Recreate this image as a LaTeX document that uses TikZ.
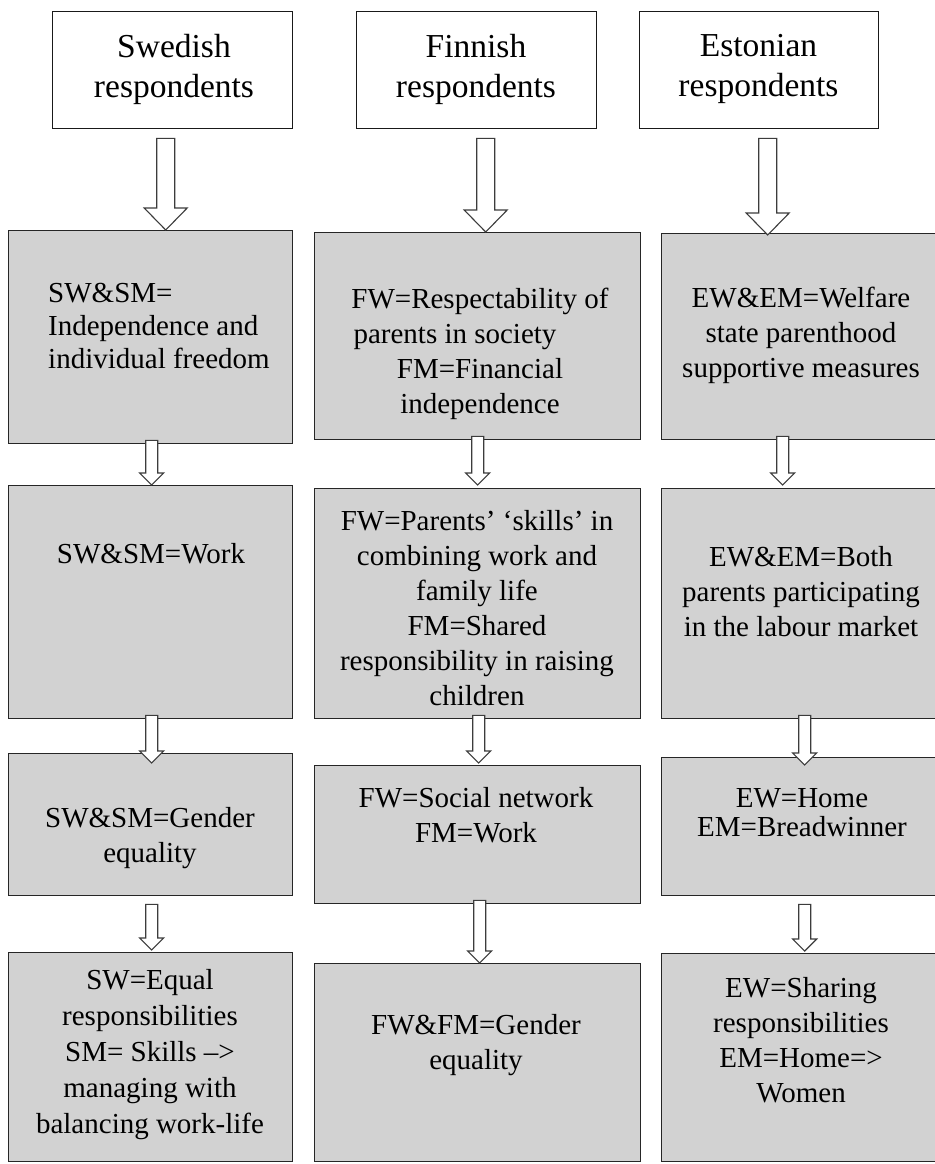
\documentclass[tikz,border=0pt]{standalone}
\usepackage{fontspec}
\setmainfont{Liberation Serif}
\usetikzlibrary{calc}
\definecolor{boxgray}{RGB}{210,210,210}
\definecolor{arrgray}{RGB}{60,60,60}
\begin{document}
\begin{tikzpicture}[x=1pt,y=-1pt,
  hdr/.style={draw=black!90, line width=1.4pt, fill=white, inner sep=0pt, anchor=north west},
  gbox/.style={draw=black!85, line width=1.4pt, fill=boxgray, inner sep=0pt, anchor=north west},
  htxt/.style={font=\fontsize{33.5}{40}\selectfont, align=center, inner sep=0pt},
  txt/.style={font=\fontsize{29}{35}\selectfont, align=center, inner sep=0pt},
  bigarr/.style={draw=arrgray, line width=1.1pt, fill=white, line join=miter,
    to path={let \p1=(\tikztostart), \p2=(\tikztotarget) in
      (\x1-9pt,\y1) -- (\x1-9pt,\y2+22pt) -- (\x1-21.5pt,\y2+22pt) -- (\x1,\y2)
      -- (\x1+21.5pt,\y2+22pt) -- (\x1+9pt,\y2+22pt) -- (\x1+9pt,\y1) -- cycle}},
  smallarr/.style={draw=arrgray, line width=1.1pt, fill=white, line join=miter,
    to path={let \p1=(\tikztostart), \p2=(\tikztotarget) in
      (\x1-6pt,\y1) -- (\x1-6pt,\y2+12pt) -- (\x1-12pt,\y2+12pt) -- (\x1,\y2)
      -- (\x1+12pt,\y2+12pt) -- (\x1+6pt,\y2+12pt) -- (\x1+6pt,\y1) -- cycle}}
]
\useasboundingbox (0,0) rectangle (934,1164);
\fill[white] (0,0) rectangle (934,1164);

% header boxes
\node[hdr, minimum width=240, minimum height=117] (H1) at (52,11) {};
\node[hdr, minimum width=240, minimum height=117] (H2) at (356,11) {};
\node[hdr, minimum width=239, minimum height=117] (H3) at (639,11) {};

% row 1
\node[gbox, minimum width=284, minimum height=213] (S1) at (8,230) {};
\node[gbox, minimum width=326, minimum height=207] (F1) at (314,232) {};
\node[gbox, minimum width=275, minimum height=206] (E1) at (661,233) {};
% row 2
\node[gbox, minimum width=284, minimum height=233] (S2) at (8,485) {};
\node[gbox, minimum width=326, minimum height=230] (F2) at (314,488) {};
\node[gbox, minimum width=275, minimum height=230] (E2) at (661,488) {};
% row 3
\node[gbox, minimum width=284, minimum height=142] (S3) at (8,753) {};
\node[gbox, minimum width=326, minimum height=138] (F3) at (314,765) {};
\node[gbox, minimum width=275, minimum height=138] (E3) at (661,757) {};
% row 4
\node[gbox, minimum width=284, minimum height=209] (S4) at (8,952) {};
\node[gbox, minimum width=326, minimum height=198] (F4) at (314,963) {};
\node[gbox, minimum width=275, minimum height=208] (E4) at (661,953) {};

% texts
\node[htxt] (H1t) at (174,69) {Swedish\\respondents};
\node[htxt] (H2t) at (476,69) {Finnish\\respondents};
\node[htxt] (H3t) at (758.5,69) {Estonian\\respondents};

\node[txt, align=left, anchor=west, font=\fontsize{29}{33}\selectfont] (S1t) at (48,326)
  {SW\&SM=\\Independence and\\individual freedom};
\node[txt] (F1t) at (480,354)
  {FW=Respectability of\\parents in society\rule{50pt}{0pt}\\FM=Financial\\independence};
\node[txt] (E1t) at (801,335)
  {EW\&EM=Welfare\\state parenthood\\supportive measures};

\node[txt] (S2t) at (151,554) {SW\&SM=Work};
\node[txt] (F2t) at (477,608)
  {FW=Parents’ ‘skills’ in\\combining work and\\family life\\FM=Shared\\responsibility in raising\\children};
\node[txt] (E2t) at (801,592)
  {EW\&EM=Both\\parents participating\\in the labour market};

\node[txt] (S3t) at (150,838) {SW\&SM=Gender\\equality};
\node[txt] (F3t) at (476,815) {FW=Social network\\FM=Work};
\node[txt, font=\fontsize{29}{29}\selectfont] (E3t) at (802,813) {EW=Home\\EM=Breadwinner};

\node[txt, font=\fontsize{29}{36}\selectfont] (S4t) at (150,1055)
  {SW=Equal\\responsibilities\\SM= Skills –>\\managing with\\balancing work-life};
\node[txt] (F4t) at (476,1045) {FW\&FM=Gender\\equality};
\node[txt] (E4t) at (801,1040)
  {EW=Sharing\\responsibilities\\EM=Home=>\\Women};

% arrows
\draw[bigarr] ([xshift=-7pt,yshift=-9pt]H1.south) to (S1.north);
\draw[bigarr] ([xshift=9pt,yshift=-9pt]H2.south) to (F1.north);
\draw[bigarr] ([xshift=8.5pt,yshift=-9pt]H3.south) to ([yshift=-2pt]E1.north);

\draw[smallarr] ([xshift=1pt,yshift=4pt]S1.south) to (S2.north);
\draw[smallarr] ([xshift=0pt,yshift=4pt]F1.south) to ([yshift=3pt]F2.north);
\draw[smallarr] ([xshift=-16.5pt,yshift=4pt]E1.south) to ([yshift=3pt]E2.north);

\draw[smallarr] ([xshift=1pt,yshift=4pt]S2.south) to ([yshift=-10pt]S3.north);
\draw[smallarr] ([xshift=1pt,yshift=4pt]F2.south) to ([yshift=2pt]F3.north);
\draw[smallarr] ([xshift=5.5pt,yshift=4pt]E2.south) to ([yshift=-8pt]E3.north);

\draw[smallarr] ([xshift=1pt,yshift=-8pt]S3.south) to ([yshift=2pt]S4.north);
\draw[smallarr] ([xshift=2pt,yshift=4pt]F3.south) to (F4.north);
\draw[smallarr] ([xshift=5.5pt,yshift=-8pt]E3.south) to ([yshift=2pt]E4.north);
\end{tikzpicture}
\end{document}
